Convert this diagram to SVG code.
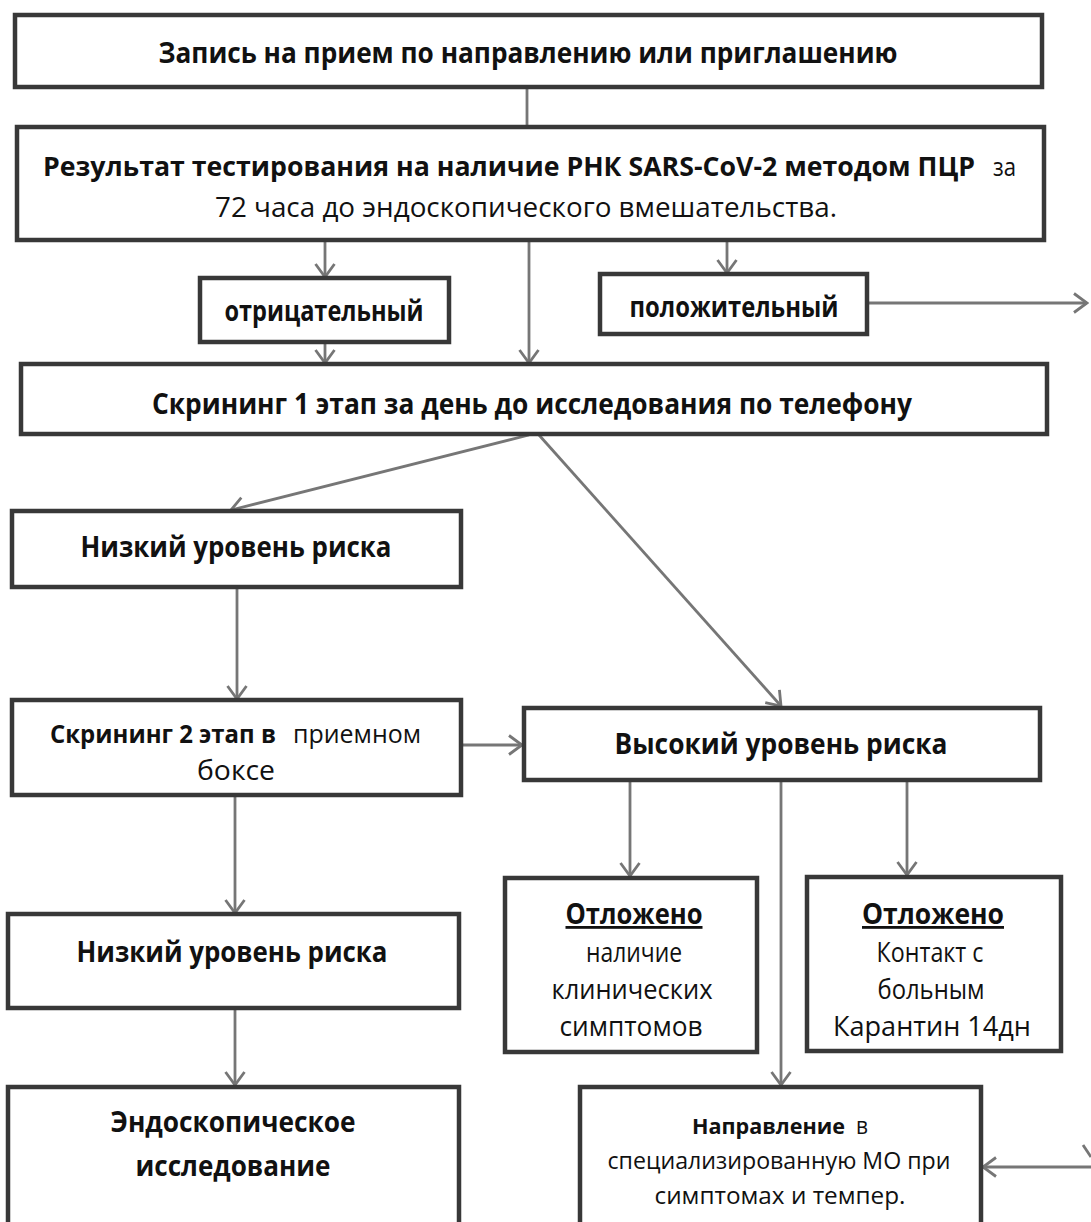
<svg xmlns="http://www.w3.org/2000/svg" width="1091" height="1222" viewBox="0 0 1091 1222">
<style>
.box{fill:#fff;stroke:#383838;stroke-width:4.5}
.c{fill:none;stroke:#767676;stroke-width:2.8}
.a{marker-end:url(#arr)}
text{font-family:"Open Sans","Noto Sans","Liberation Sans",sans-serif;fill:#111;font-size:28px}
.b{font-weight:bold}
.m{text-anchor:middle}
.e{text-anchor:end}
.s{font-size:23px}
</style>
<defs>
<marker id="arr" markerUnits="userSpaceOnUse" markerWidth="18" markerHeight="22" viewBox="0 0 18 22" refX="16" refY="11" orient="auto">
<path d="M3,1.5 L16,11 L3,20.5" fill="none" stroke="#767676" stroke-width="2.8"/>
</marker>
</defs>
<rect width="1091" height="1222" fill="#fff"/>
<g id="connectors">
<line class="c" x1="527" y1="87" x2="527" y2="127"/>
<line class="c a" x1="325" y1="240" x2="325" y2="277"/>
<line class="c a" x1="529" y1="240" x2="529" y2="363"/>
<line class="c a" x1="727" y1="240" x2="727" y2="273"/>
<line class="c a" x1="325" y1="342" x2="325" y2="363"/>
<line class="c a" x1="868" y1="303" x2="1087" y2="303"/>
<line class="c a" x1="529" y1="435" x2="231" y2="510"/>
<line class="c a" x1="539" y1="435" x2="781" y2="706"/>
<line class="c a" x1="237" y1="587" x2="237" y2="699"/>
<line class="c a" x1="461" y1="745" x2="522" y2="745"/>
<line class="c a" x1="630" y1="780" x2="630" y2="876"/>
<line class="c a" x1="781" y1="780" x2="781" y2="1085"/>
<line class="c a" x1="907" y1="780" x2="907" y2="875"/>
<line class="c a" x1="235" y1="795" x2="235" y2="913"/>
<line class="c a" x1="235" y1="1008" x2="235" y2="1085"/>
<line class="c a" x1="1091" y1="1167" x2="983" y2="1167"/>
<line class="c" x1="1083" y1="1145" x2="1091" y2="1157"/>
</g>
<g id="n1"><rect class="box" x="15" y="15" width="1027" height="72"/>
<text class="b m" x="528" y="63" textLength="739" lengthAdjust="spacingAndGlyphs">Запись на прием по направлению или приглашению</text></g>
<g id="n2"><rect class="box" x="17" y="127" width="1027" height="113"/>
<text class="b" x="43" y="176" style="font-size:26px" textLength="932" lengthAdjust="spacingAndGlyphs">Результат тестирования на наличие РНК SARS-CoV-2 методом ПЦР</text>
<text class="e" x="1016" y="176" style="font-size:26px" textLength="23" lengthAdjust="spacingAndGlyphs">за</text>
<text class="m" x="526" y="217" textLength="622" lengthAdjust="spacingAndGlyphs">72 часа до эндоскопического вмешательства.</text></g>
<g id="n3"><rect class="box" x="200" y="278" width="249" height="64"/>
<text class="b m" x="324" y="321" textLength="199" lengthAdjust="spacingAndGlyphs">отрицательный</text></g>
<g id="n4"><rect class="box" x="600" y="274" width="267" height="60"/>
<text class="b m" x="734" y="317" textLength="209" lengthAdjust="spacingAndGlyphs">положительный</text></g>
<g id="n5"><rect class="box" x="21" y="364" width="1026" height="70"/>
<text class="b m" x="532" y="414" textLength="760" lengthAdjust="spacingAndGlyphs">Скрининг 1 этап за день до исследования по телефону</text></g>
<g id="n6"><rect class="box" x="12" y="511" width="449" height="76"/>
<text class="b m" x="236" y="557" textLength="311" lengthAdjust="spacingAndGlyphs">Низкий уровень риска</text></g>
<g id="n7"><rect class="box" x="12" y="700" width="449" height="95"/>
<text class="b" x="50" y="743" style="font-size:25px" textLength="226" lengthAdjust="spacingAndGlyphs">Скрининг 2 этап в</text>
<text class="e" x="421" y="743" style="font-size:26px" textLength="128" lengthAdjust="spacingAndGlyphs">приемном</text>
<text class="m" x="236" y="780" textLength="78" lengthAdjust="spacingAndGlyphs">боксе</text></g>
<g id="n8"><rect class="box" x="524" y="708" width="516" height="72"/>
<text class="b m" x="781" y="754" textLength="333" lengthAdjust="spacingAndGlyphs">Высокий уровень риска</text></g>
<g id="n9"><rect class="box" x="505" y="878" width="252" height="174"/>
<text class="b m" x="634" y="924" textLength="137" lengthAdjust="spacingAndGlyphs" text-decoration="underline">Отложено</text>
<text class="m" x="634" y="962" textLength="96" lengthAdjust="spacingAndGlyphs">наличие</text>
<text class="m" x="632" y="999" textLength="161" lengthAdjust="spacingAndGlyphs">клинических</text>
<text class="m" x="631" y="1036" textLength="143" lengthAdjust="spacingAndGlyphs">симптомов</text></g>
<g id="n10"><rect class="box" x="807" y="877" width="254" height="174"/>
<text class="b m" x="933" y="924" textLength="142" lengthAdjust="spacingAndGlyphs" text-decoration="underline">Отложено</text>
<text class="m" x="930" y="962" textLength="107" lengthAdjust="spacingAndGlyphs">Контакт с</text>
<text class="m" x="931" y="999" textLength="107" lengthAdjust="spacingAndGlyphs">больным</text>
<text class="m" x="932" y="1036" textLength="198" lengthAdjust="spacingAndGlyphs">Карантин 14дн</text></g>
<g id="n11"><rect class="box" x="8" y="914" width="451" height="94"/>
<text class="b m" x="232" y="962" textLength="311" lengthAdjust="spacingAndGlyphs">Низкий уровень риска</text></g>
<g id="n12"><rect class="box" x="8" y="1087" width="451" height="160"/>
<text class="b m" x="233" y="1132" textLength="245" lengthAdjust="spacingAndGlyphs">Эндоскопическое</text>
<text class="b m" x="233" y="1176" textLength="195" lengthAdjust="spacingAndGlyphs">исследование</text></g>
<g id="n13"><rect class="box" x="580" y="1087" width="401" height="160"/>
<text class="b" x="692" y="1134" style="font-size:22px" textLength="153" lengthAdjust="spacingAndGlyphs">Направление</text>
<text class="s e" x="868" y="1134" textLength="12" lengthAdjust="spacingAndGlyphs">в</text>
<text class="s m" x="779" y="1169" textLength="343" lengthAdjust="spacingAndGlyphs">специализированную МО при</text>
<text class="s m" x="780" y="1204" textLength="251" lengthAdjust="spacingAndGlyphs">симптомах и темпер.</text></g>
</svg>
